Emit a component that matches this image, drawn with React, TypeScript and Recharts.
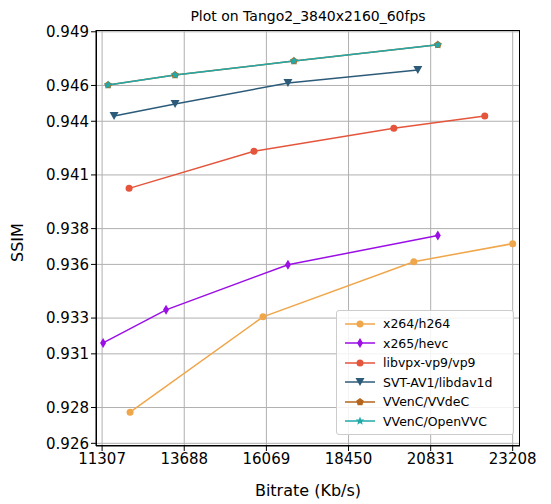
import React from 'react';
import { LineChart, Line, XAxis, YAxis, CartesianGrid } from 'recharts';

const xTicks = [11307, 13688, 16069, 18450, 20831, 23208];
const yTicks = [0.926, 0.928, 0.931, 0.933, 0.936, 0.938, 0.941, 0.944, 0.946, 0.949];

const x264Rate = [12118, 15970, 20343, 23208];
const x264Ssim = [0.92774, 0.93307, 0.93615, 0.93716];
const x265Rate = [11336, 13160, 16694, 21038];
const x265Ssim = [0.93161, 0.93346, 0.93598, 0.93761];
const vp9Rate = [12089, 15709, 19763, 22399];
const vp9Ssim = [0.94025, 0.94232, 0.94361, 0.94429];
const av1Rate = [11654, 13421, 16694, 20458];
const av1Ssim = [0.94429, 0.94496, 0.94614, 0.94687];
const vvdecRate = [11481, 13421, 16867, 21038];
const vvdecSsim = [0.94603, 0.94659, 0.94737, 0.94827];
const openvvcRate = [11481, 13421, 16867, 21038];
const openvvcSsim = [0.94603, 0.94659, 0.94737, 0.94827];

const zip = (xs: number[], ys: number[]) => xs.map((x, i) => ({ x, y: ys[i] }));

const series = [
  { name: 'x264/h264', color: '#f0a64a', shape: 'circle', data: zip(x264Rate, x264Ssim) },
  { name: 'x265/hevc', color: '#9b0ee6', shape: 'diamond', data: zip(x265Rate, x265Ssim) },
  { name: 'libvpx-vp9/vp9', color: '#e4553b', shape: 'circle', data: zip(vp9Rate, vp9Ssim) },
  { name: 'SVT-AV1/libdav1d', color: '#2c5b7a', shape: 'tri', data: zip(av1Rate, av1Ssim) },
  { name: 'VVenC/VVdeC', color: '#b5651d', shape: 'pent', data: zip(vvdecRate, vvdecSsim) },
  { name: 'VVenC/OpenVVC', color: '#22a9a9', shape: 'star', data: zip(openvvcRate, openvvcSsim) },
];

const Marker = ({ cx, cy, color, shape }: any) => {
  if (cx == null || cy == null) return null;
  if (shape === 'circle') return <circle cx={cx} cy={cy} r={3.5} fill={color} />;
  if (shape === 'diamond')
    return <polygon points={`${cx},${cy - 5} ${cx + 3},${cy} ${cx},${cy + 5} ${cx - 3},${cy}`} fill={color} />;
  if (shape === 'tri')
    return <polygon points={`${cx - 4.5},${cy - 4} ${cx + 4.5},${cy - 4} ${cx},${cy + 4}`} fill={color} />;
  const pts: string[] = [];
  const n = shape === 'star' ? 10 : 5;
  for (let i = 0; i < n; i++) {
    const a = -Math.PI / 2 + (i * 2 * Math.PI) / n;
    const r = shape === 'star' ? (i % 2 ? 2 : 4.5) : 4;
    pts.push(`${cx + r * Math.cos(a)},${cy + r * Math.sin(a)}`);
  }
  return <polygon points={pts.join(' ')} fill={color} />;
};

const LegendBox = () => (
  <div style={{ position: 'absolute', left: 336, top: 310, width: 178, boxSizing: 'border-box', border: '1px solid #ccc', borderRadius: 3, background: 'rgba(255,255,255,0.85)', padding: '3px 8px', fontSize: 12.5 }}>
    {series.map(s => (
      <div key={s.name} style={{ display: 'flex', alignItems: 'center', height: 19.5 }}>
        <svg width={30} height={12} style={{ marginRight: 8 }}>
          <line x1={0} y1={6} x2={30} y2={6} stroke={s.color} strokeWidth={1.5} />
          <Marker cx={15} cy={6} color={s.color} shape={s.shape} />
        </svg>
        {s.name}
      </div>
    ))}
  </div>
);

export default function App() {
  return (
    <div style={{ position: 'absolute', left: 0, top: 0, width: 551, height: 504, background: '#fff', fontFamily: 'DejaVu Sans' }}>
      <div style={{ position: 'absolute', left: 96, width: 424, top: 8, textAlign: 'center', fontSize: 14 }}>
        Plot on Tango2_3840x2160_60fps
      </div>
      <div style={{ position: 'absolute', left: 8, top: 262, transform: 'rotate(-90deg)', transformOrigin: 'left top', fontSize: 16 }}>
        SSIM
      </div>
      <LineChart width={551} height={504} margin={{ top: 30, right: 31, left: 36, bottom: 0 }}>
        <CartesianGrid stroke="#b0b0b0" horizontalValues={yTicks} verticalValues={xTicks} />
        <XAxis type="number" dataKey="x" domain={[11130, 23420]} ticks={xTicks} allowDataOverflow
          tick={{ fontSize: 15, fill: '#000' }} stroke="#000" tickSize={5} height={58}
          label={{ value: 'Bitrate (Kb/s)', position: 'insideBottom', offset: 8, fontSize: 16, fill: '#000' }} />
        <YAxis type="number" dataKey="y" domain={[0.92585, 0.9491]} ticks={yTicks} allowDataOverflow
          tickFormatter={(v: number) => v.toFixed(3)} tick={{ fontSize: 15, fill: '#000' }} stroke="#000" tickSize={5} width={60} />
        {series.map(s => (
          <Line key={s.name} data={s.data} dataKey="y" name={s.name} stroke={s.color} strokeWidth={1.5}
            isAnimationActive={false} dot={(p: any) => <Marker key={p.index} cx={p.cx} cy={p.cy} color={s.color} shape={s.shape} />} activeDot={false} />
        ))}
      </LineChart>
      <div style={{ position: 'absolute', left: 96, top: 30, width: 424, height: 416, border: '1px solid #000', boxSizing: 'border-box', pointerEvents: 'none' }} />
      <LegendBox />
    </div>
  );
}
